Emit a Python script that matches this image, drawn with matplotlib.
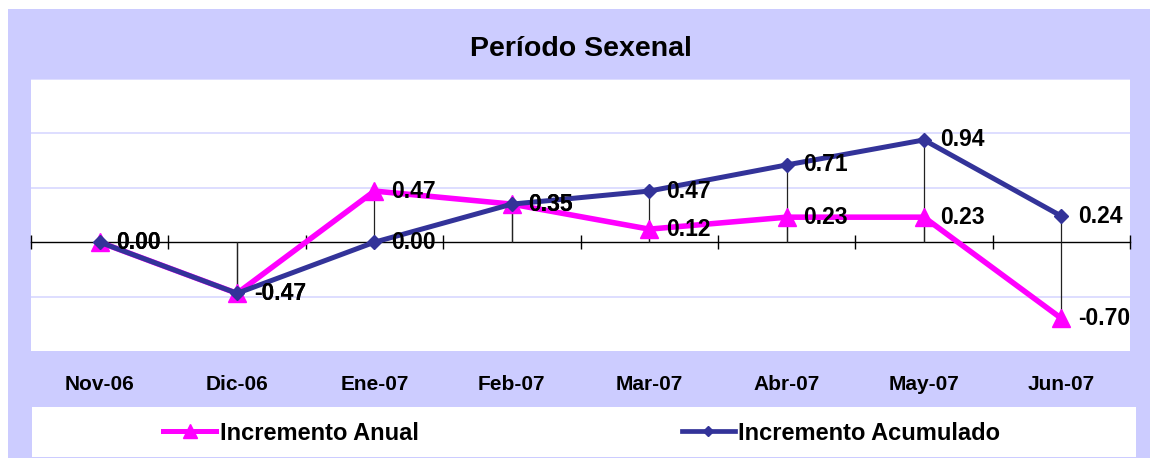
import matplotlib
matplotlib.use("Agg")
import matplotlib.pyplot as plt
from matplotlib.patches import Rectangle
from matplotlib.lines import Line2D
import numpy as np

categories = ["Nov-06", "Dic-06", "Ene-07", "Feb-07", "Mar-07", "Abr-07", "May-07", "Jun-07"]
incremento_anual = [0.00, -0.47, 0.47, 0.35, 0.12, 0.23, 0.23, -0.70]
incremento_acumulado = [0.00, -0.47, 0.00, 0.35, 0.47, 0.71, 0.94, 0.24]
title = "Período Sexenal"
series_names = ["Incremento Anual", "Incremento Acumulado"]

LAV = "#CCCCFF"
MAG = "#FF00FF"
NAVY = "#333399"
GRID = "#D8D8FF"
FONT = "Liberation Sans"

fig = plt.figure(figsize=(11.5, 4.63), dpi=100)
fig.patch.set_facecolor("white")

# lavender chart-area background
fig.patches.append(Rectangle((8/1150, 5/463), 1142/1150, 449/463,
                             transform=fig.transFigure, facecolor=LAV,
                             edgecolor="none", zorder=-2))
# legend box
fig.patches.append(Rectangle((32/1150, 6/463), 1104/1150, 50/463,
                             transform=fig.transFigure, facecolor="white",
                             edgecolor="none", zorder=-1))

ax = fig.add_axes([31/1150, 112/463, 1099/1150, 272/463])
ax.set_zorder(2)
ax.set_facecolor("white")
x = np.arange(len(categories))

ax.set_xlim(-0.5, len(categories) - 0.5)
ax.set_ylim(-1.0, 1.5)

# gridlines
ax.set_yticks([-0.5, 0.5, 1.0, 1.5])
ax.yaxis.grid(True, color=GRID, linewidth=1.2)
ax.tick_params(axis="y", left=False, labelleft=False)
ax.set_axisbelow(True)

for s in ["top", "right", "left"]:
    ax.spines[s].set_visible(False)
ax.spines["bottom"].set_position(("data", 0))
ax.spines["bottom"].set_color("black")
ax.spines["bottom"].set_linewidth(1.0)
ax.spines["bottom"].set_zorder(2)

# tick marks at category boundaries on the zero line
ax.set_xticks(np.arange(len(categories) + 1) - 0.5)
ax.tick_params(axis="x", direction="inout", length=10, width=1.0,
               color="black", labelbottom=False)

# category labels below the plot area
sec = ax.secondary_xaxis("bottom")
sec.set_xticks(x)
sec.set_xticklabels(categories, fontfamily=FONT, fontweight="bold", fontsize=15)
sec.tick_params(length=0, pad=17)
sec.spines["bottom"].set_visible(False)

# drop lines
ax.vlines(x, 0, incremento_anual, color="#222222", linewidth=0.9, zorder=3)
ax.vlines(x, 0, incremento_acumulado, color="#222222", linewidth=0.9, zorder=3)

l1, = ax.plot(x, incremento_anual, color=MAG, linewidth=4.0, marker="^",
              markersize=12.5, markerfacecolor=MAG, markeredgecolor=MAG,
              zorder=4, label=series_names[0], clip_on=False)
l2, = ax.plot(x, incremento_acumulado, color=NAVY, linewidth=3.6, marker="D",
              markersize=7.5, markerfacecolor=NAVY, markeredgecolor=NAVY,
              zorder=5, label=series_names[1], clip_on=False)

for xi, v in zip(x, incremento_anual):
    ax.annotate(f"{v:.2f}", (xi, v), xytext=(12, 0), textcoords="offset points",
                ha="left", va="center", fontfamily=FONT, fontweight="bold",
                fontsize=16.5, zorder=6)
for xi, v in zip(x, incremento_acumulado):
    ax.annotate(f"{v:.2f}", (xi, v), xytext=(12, 0), textcoords="offset points",
                ha="left", va="center", fontfamily=FONT, fontweight="bold",
                fontsize=16.5, zorder=6)

fig.text(581/1150, 1 - 49/463, title, ha="center", va="center",
         fontfamily=FONT, fontweight="bold", fontsize=20.5)

h1 = Line2D([], [], color=MAG, linewidth=3.6, marker="^", markersize=9.5,
            markerfacecolor=MAG, markeredgecolor=MAG)
h2 = Line2D([], [], color=NAVY, linewidth=3.4, marker="D", markersize=5.5,
            markerfacecolor=NAVY, markeredgecolor=NAVY)
leg = fig.legend(handles=[h1, h2], labels=series_names, loc="center left",
                 bbox_to_anchor=(163/1150, 1 - 433/463), ncol=2,
                 frameon=False, handlelength=2.25, handletextpad=0.15,
                 columnspacing=11.15, borderaxespad=0, borderpad=0,
                 prop={"family": FONT, "weight": "bold", "size": 17})

fig.savefig("out.png", dpi=100, facecolor="white")
